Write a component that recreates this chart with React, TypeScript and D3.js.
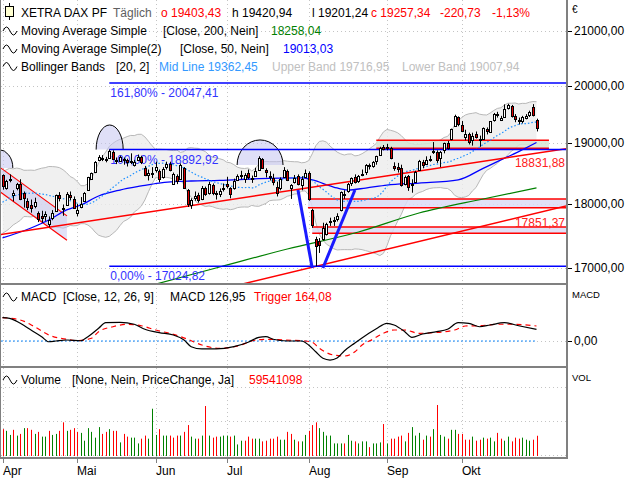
import * as d3 from 'd3';

// trading sessions per month, Apr..Okt 2024
const monthLabels = ['Apr', 'Mai', 'Jun', 'Jul', 'Aug', 'Sep', 'Okt'];
const monthTradingDays = [21, 22, 20, 23, 22, 21, 22];

// closes of the 19 sessions before 2 April (warm-up for the 20-day Bollinger band)
const priorCloses = [
  17716, 17698, 17716, 17842, 17814, 17746, 17965, 17961, 17942, 17936,
  17933, 17987, 18015, 18179, 18206, 18261, 18384, 18477, 18492,
];

const opens = [
  18470, 18250, 18410, 18150, 18250, 18320, 18180, 18040, 17990, 17960, 17850, 17800, 17810, 17680, 17770, 17890, 18150, 17930, 17990, 18150, 18080,
  17850, 17950, 18050, 18230, 18400, 18520, 18720, 18760, 18730, 18760, 18850, 18720, 18700, 18740, 18720, 18700, 18640, 18720, 18770, 18580, 18470, 18510,
  18560, 18530, 18440, 18600, 18650, 18330, 18460, 18400, 18580, 18220, 17990, 18090, 18140, 18080, 18260, 18180, 18310, 18170, 18160, 18250,
  18330, 18250, 18250, 18390, 18450, 18400, 18500, 18420, 18460, 18560, 18740, 18560, 18450, 18420, 18280, 18250, 18440, 18540, 18260, 18350, 18450, 18310, 18440,
  18500, 17900, 17450, 17420, 17450, 17520, 17730, 17740, 17760, 17900, 18150, 18200, 18340, 18440, 18370, 18470, 18520, 18640, 18620, 18700, 18800, 18930,
  18920, 18920, 18620, 18610, 18590, 18320, 18450, 18300, 18360, 18560, 18680, 18660, 18730, 18850, 18850, 18750, 18880, 19000, 19080, 19300, 19450,
  19320, 19100, 19150, 19050, 19150, 19050, 19080, 19250, 19200, 19390, 19510, 19400, 19450, 19600, 19640, 19470, 19400, 19380, 19440, 19480, 19630, 19403.43,
];

const highs = [
  18480, 18390, 18480, 18220, 18340, 18400, 18200, 18090, 18070, 18100, 17880, 17890, 17880, 17800, 17900, 18150, 18190, 17990, 18190, 18200, 18120,
  18000, 18110, 18190, 18440, 18510, 18700, 18800, 18800, 18770, 18892.92, 18880, 18760, 18790, 18760, 18740, 18830, 18720, 18810, 18790, 18620, 18560, 18600,
  18690, 18560, 18600, 18690, 18690, 18510, 18480, 18660, 18600, 18240, 18090, 18200, 18180, 18290, 18280, 18360, 18330, 18210, 18250, 18330,
  18440, 18270, 18410, 18480, 18540, 18500, 18560, 18460, 18590, 18780, 18750, 18580, 18530, 18490, 18360, 18430, 18600, 18560, 18320, 18470, 18480, 18450, 18560,
  18530, 17920, 17480, 17460, 17700, 17700, 17780, 17790, 17850, 18200, 18220, 18340, 18430, 18480, 18470, 18560, 18650, 18660, 18700, 18790, 18940, 18970,
  18990, 18940, 18680, 18670, 18640, 18460, 18470, 18400, 18540, 18720, 18720, 18780, 18790, 19020, 18880, 18870, 19010, 19040, 19250, 19490, 19460,
  19380, 19230, 19180, 19180, 19200, 19130, 19270, 19270, 19380, 19520, 19540, 19470, 19670, 19680, 19660, 19500, 19440, 19470, 19500, 19560, 19674, 19420.94,
];

const lows = [
  18230, 18230, 18350, 18040, 18220, 18060, 17940, 17900, 17860, 17930, 17710, 17700, 17730, 17630, 17740, 17880, 18040, 17810, 17980, 18060, 17920,
  17800, 17930, 18040, 18220, 18390, 18500, 18700, 18700, 18680, 18740, 18720, 18650, 18690, 18640, 18610, 18650, 18610, 18700, 18650, 18450, 18380, 18420,
  18510, 18350, 18410, 18560, 18530, 18310, 18320, 18390, 18240, 17950, 17920, 18050, 18020, 18060, 18130, 18150, 18140, 18070, 18110, 18200,
  18250, 18090, 18230, 18370, 18400, 18340, 18400, 18340, 18440, 18550, 18570, 18430, 18380, 18300, 18120, 18220, 18420, 18370, 18080, 18330, 18300, 18220, 18420,
  18050, 17620, 17024.82, 17230, 17420, 17500, 17650, 17650, 17720, 17880, 18080, 18180, 18290, 18330, 18340, 18450, 18470, 18560, 18590, 18640, 18790, 18880,
  18880, 18730, 18540, 18510, 18280, 18300, 18210, 18180, 18350, 18550, 18580, 18650, 18690, 18820, 18670, 18600, 18830, 18890, 19050, 19290, 19290,
  19190, 19050, 18980, 18960, 19080, 18940, 19060, 19150, 19180, 19370, 19440, 19380, 19440, 19580, 19440, 19360, 19320, 19340, 19410, 19450, 19460, 19201.24,
];

const closes = [
  18283, 18367, 18403, 18175, 18318, 18077, 18097, 17955, 17930, 18027, 17766, 17770, 17837, 17737, 17860, 18137, 18088, 17917, 18161, 18118, 17932,
  17896, 18001, 18175, 18430, 18498, 18686, 18773, 18742, 18716, 18869, 18738, 18704, 18768, 18726, 18680, 18692, 18693, 18775, 18677, 18473, 18496, 18498,
  18608, 18406, 18575, 18653, 18557, 18494, 18370, 18630, 18265, 18002, 18068, 18131, 18067, 18254, 18163, 18325, 18177, 18155, 18211, 18235,
  18290, 18164, 18374, 18450, 18475, 18472, 18430, 18407, 18534, 18748, 18590, 18518, 18437, 18354, 18171, 18407, 18558, 18387, 18299, 18417, 18320, 18411, 18509,
  18083, 17661, 17339, 17354, 17615, 17680, 17723, 17726, 17812, 18184, 18166, 18322, 18421, 18357, 18448, 18493, 18633, 18617, 18681, 18782, 18912, 18906,
  18930, 18747, 18591, 18576, 18302, 18444, 18266, 18330, 18518, 18699, 18633, 18726, 18711, 18873, 18720, 18847, 18997, 18919, 19238, 19474, 19325,
  19213, 19164, 19015, 19120, 19104, 19066, 19254, 19211, 19373, 19508, 19486, 19432, 19583, 19657, 19461, 19422, 19377, 19443, 19464, 19532, 19478, 19257.34,
];

// volume in millions
const volumes = [
  79, 74, 62, 77, 60, 65, 82, 82, 77, 65, 71, 57, 57, 74, 62, 65, 74, 99, 74, 77, 82,
  71, 68, 45, 82, 71, 54, 85, 65, 71, 79, 74, 74, 40, 65, 57, 54, 54, 37, 51, 60, 51, 139,
  62, 79, 60, 60, 60, 54, 60, 60, 71, 91, 57, 51, 51, 60, 147, 60, 54, 57, 57, 60,
  60, 57, 60, 34, 45, 45, 57, 51, 51, 51, 43, 45, 51, 51, 57, 48, 48, 71, 65, 48, 43, 43, 62,
  74, 91, 99, 82, 71, 60, 60, 37, 37, 37, 37, 62, 45, 43, 37, 43, 43, 26, 37, 37, 40, 94,
  37, 51, 51, 57, 60, 43, 68, 85, 60, 68, 48, 60, 57, 79, 150, 62, 57, 51, 77, 77, 65,
  65, 48, 48, 57, 45, 48, 54, 51, 54, 43, 68, 51, 45, 57, 43, 54, 51, 54, 48, 45, 48, 59.541098,
];

// [session index, value]
const ma200Points: [number, number][] = [
  [40, 16714], [61, 17015], [80, 17290], [100, 17554], [117, 17854], [135, 18079], [150, 18258.04],
];
const ma50Points: [number, number][] = [
  [0, 17461], [8, 17617], [13, 17743], [18, 17903], [22, 17982], [27, 18127], [33, 18224], [39, 18290],
  [44, 18338], [53, 18371], [61, 18380], [72, 18410], [84, 18421], [87, 18388], [93, 18273], [97, 18224],
  [102, 18256], [108, 18305], [117, 18338], [128, 18390], [135, 18580], [140, 18720], [145, 18860], [150, 19013.03],
];
const macdPoints: [number, number][] = [
  [0, 255], [2, 248], [5, 193], [8, 120], [11, 47], [13, -8], [15, 0], [18, 11], [22, 3], [24, 47],
  [27, 139], [29, 200], [33, 204], [37, 183], [40, 128], [44, 91], [48, 66], [51, 11], [53, -62], [56, -87],
  [60, -87], [65, -62], [69, -14], [72, 40], [74, 47], [76, 19], [80, 0], [84, 0], [86, -44], [88, -117],
  [90, -189], [92, -208], [94, -186], [96, -109], [99, -22], [102, 60], [105, 134], [108, 193], [110, 175],
  [113, 102], [115, 40], [118, 77], [122, 102], [125, 128], [128, 200], [131, 193], [134, 156], [137, 175],
  [141, 200], [145, 167], [150, 126.95],
];
const triggerPoints: [number, number][] = [
  [0, 255], [5, 230], [9, 156], [13, 66], [18, 19], [21, 3], [25, 30], [27, 102], [31, 156], [35, 183],
  [39, 167], [43, 120], [48, 73], [52, 19], [56, -44], [61, -80], [67, -44], [70, 0], [74, 19], [79, 11],
  [85, 0], [87, -14], [89, -80], [93, -153], [96, -164], [99, -117], [101, -44], [104, 19], [107, 84],
  [110, 120], [113, 120], [117, 84], [121, 91], [127, 120], [130, 164], [134, 167], [139, 183], [143, 183],
  [150, 164.08],
];

const priceTicks = [17000, 18000, 19000, 20000, 21000];
const volumeGrid = [0, 100, 200];

// Fibonacci retracement from the May high to the August low
const fibLevels = [
  { pct: '161,80%', value: 20047.41 },
  { pct: '100,00%', value: 18892.92 },
  { pct: '0,00%', value: 17024.82 },
];
const fibStartSession = 30;

// drawings: anchors as [session index, price]
const trendLines = [
  { a: [13, 17630], b: [150, 18831.88], from: -1, to: 158.3 },
  { a: [88, 17024.82], b: [150, 17851.37], from: 60, to: 158.3 },
];
const channel = { lowA: [3, 18040], lowB: [13, 17630], highA: [2, 18480], from: -1, to: 18.1 };
const vLegs = [
  [[83, 18224], [87, 17000]],
  [[90, 17000], [99, 18224]],
];
const zones = [
  { from: 105, to: 153.5, hi: 19050, lo: 18914, kind: 'resistance' },
  { from: 85.8, to: 158.3, hi: 18079, lo: 17939, kind: 'support' },
  { from: 87, to: 158.3, hi: 17633, lo: 17534, kind: 'support' },
];
const arcs = [
  { from: -4.9, to: 2.9, base: 18586, top: 18892 },
  { from: 26.3, to: 33.9, base: 18893, top: 19312 },
  { from: 65.9, to: 78.8, base: 18635, top: 19056 },
];

const fmt = (v: number) => v.toFixed(2).replace('.', ',');

export default function App() {
  const n = closes.length;
  const x = d3.scaleLinear().domain([0, n - 1]).range([2.5, 536.5]);
  const y = d3.scaleLog().domain([17000, 21000]).range([268, 31]);
  const yMacd = d3.scaleLinear().domain([-295, 612]).range([368, 285]);
  const yVol = d3.scaleLinear().domain([0, 258.8]).range([456, 368]);

  const allCloses = [...priorCloses, ...closes];
  const bands = closes.map((_, i) => {
    const w = allCloses.slice(i, i + 20);
    const m = d3.mean(w) as number;
    const sd = Math.sqrt(d3.mean(w, (v) => (v - m) ** 2) as number);
    return { i, m, u: m + 2 * sd, l: m - 2 * sd };
  });

  const bandArea = d3.area<typeof bands[0]>().x((d) => x(d.i)).y0((d) => y(d.l)).y1((d) => y(d.u));
  const bandUpper = d3.line<typeof bands[0]>().x((d) => x(d.i)).y((d) => y(d.u));
  const bandLower = d3.line<typeof bands[0]>().x((d) => x(d.i)).y((d) => y(d.l));
  const bandMid = d3.line<typeof bands[0]>().x((d) => x(d.i)).y((d) => y(d.m));
  const priceLine = d3.line<[number, number]>().x((d) => x(d[0])).y((d) => y(d[1])).curve(d3.curveMonotoneX);
  const macdLine = d3.line<[number, number]>().x((d) => x(d[0])).y((d) => yMacd(d[1])).curve(d3.curveMonotoneX);

  const extend = (a: number[], b: number[], from: number, to: number) => {
    const xa = x(a[0]), ya = y(a[1]), xb = x(b[0]), yb = y(b[1]);
    const k = (yb - ya) / (xb - xa);
    const x0 = Math.max(0, x(from)), x1 = x(to);
    return { x0, y0: ya + k * (x0 - xa), x1, y1: ya + k * (x1 - xa), k };
  };

  const lowLine = extend(channel.lowA, channel.lowB, channel.from, channel.to);
  const hx = x(channel.highA[0]), hy = y(channel.highA[1]);
  const upY = (px: number) => hy + lowLine.k * (px - hx);

  const monthStarts = d3.cumsum([0, ...monthTradingDays.slice(0, -1)]);
  const gridX = Array.from(monthStarts, (s) => Math.round(x(s)) + 0.5);

  const red = '#ff0000';
  const green = '#008000';
  const font = 'Liberation Sans, Arial, sans-serif';

  const waveIcon = (yc: number) => `M3,${yc + 1} q3.5,-8 7,0 t7,0`;

  return (
    <svg width={640} height={480} style={{ position: 'absolute', left: 0, top: 0 }} fontFamily={font} fontSize={12}>
      <defs>
        <clipPath id="mainClip"><rect x={1} y={0} width={565} height={283} /></clipPath>
        <clipPath id="macdClip"><rect x={1} y={286} width={565} height={80} /></clipPath>
      </defs>
      <rect width={640} height={480} fill="#fff" />

      {/* grid */}
      <g stroke="#c4c4c4" strokeDasharray="1,3">
        {gridX.map((gx, k) => (
          <line key={k} x1={gx} x2={gx} y1={0} y2={457} />
        ))}
        {priceTicks.map((t) => (
          <line key={t} x1={1} x2={566} y1={Math.round(y(t)) + 0.5} y2={Math.round(y(t)) + 0.5} />
        ))}
        <line x1={1} x2={566} y1={Math.round(yMacd(0)) + 0.5} y2={Math.round(yMacd(0)) + 0.5} />
        {volumeGrid.map((t) => (
          <line key={t} x1={1} x2={566} y1={Math.round(yVol(t)) - 0.5} y2={Math.round(yVol(t)) - 0.5} />
        ))}
      </g>

      <g clipPath="url(#mainClip)">
        {/* Bollinger band */}
        <path d={bandArea(bands) ?? ''} fill="#ececec" fillOpacity={0.8} />
        <path d={bandUpper(bands) ?? ''} fill="none" stroke="#b8b8b8" strokeWidth={1} />
        <path d={bandLower(bands) ?? ''} fill="none" stroke="#b8b8b8" strokeWidth={1} />

        {/* horizontal zones */}
        {zones.map((z, k) => (
          <g key={k}>
            <rect x={x(z.from)} width={x(z.to) - x(z.from)} y={y(z.hi)} height={y(z.lo) - y(z.hi)}
              fill={z.kind === 'resistance' ? '#d6e4d4' : '#dcdcf6'} fillOpacity={0.85} />
            <line x1={x(z.from)} x2={x(z.to)} y1={y(z.hi)} y2={y(z.hi)} stroke={red} strokeWidth={1.5} />
            <line x1={x(z.from)} x2={x(z.to)} y1={y(z.lo)} y2={y(z.lo)} stroke={red} strokeWidth={1.5} />
          </g>
        ))}

        {/* April channel */}
        <path
          d={`M${lowLine.x0},${upY(lowLine.x0)}L${lowLine.x1},${upY(lowLine.x1)}L${lowLine.x1},${lowLine.y1}L${lowLine.x0},${lowLine.y0}Z`}
          fill="#c8c8f0" fillOpacity={0.55}
        />
        <line x1={lowLine.x0} y1={upY(lowLine.x0)} x2={lowLine.x1} y2={upY(lowLine.x1)} stroke={red} strokeWidth={1.2} />
        <line x1={lowLine.x0} y1={lowLine.y0} x2={lowLine.x1} y2={lowLine.y1} stroke={red} strokeWidth={1.2} />

        {/* arcs */}
        {arcs.map((a, k) => {
          const x0 = x(a.from), x1 = x(a.to), yb = y(a.base);
          const rx = (x1 - x0) / 2, ry = yb - y(a.top);
          const d = `M${x0},${yb}A${rx},${ry} 0 0 1 ${x1},${yb}`;
          return (
            <g key={k}>
              <path d={d + 'Z'} fill="#c4c4f0" fillOpacity={0.55} />
              <path d={d} fill="none" stroke="#000" strokeWidth={1} />
            </g>
          );
        })}

        {/* moving averages */}
        <path d={priceLine(ma200Points) ?? ''} fill="none" stroke={green} strokeWidth={1.2} />
        <path d={priceLine(ma50Points) ?? ''} fill="none" stroke="#0000ff" strokeWidth={1.3} />
        <path d={bandMid(bands) ?? ''} fill="none" stroke="#1e90ff" strokeWidth={1.2} strokeDasharray="1.5,2" />

        {/* trend lines */}
        {trendLines.map((t, k) => {
          const l = extend(t.a, t.b, t.from, t.to);
          return <line key={k} x1={l.x0} y1={l.y0} x2={l.x1} y2={l.y1} stroke={red} strokeWidth={1.5} />;
        })}

        {/* Fibonacci */}
        {fibLevels.map((f) => (
          <g key={f.pct}>
            <line x1={x(fibStartSession)} x2={566} y1={y(f.value)} y2={y(f.value)} stroke="#0000ff" strokeWidth={1.5} />
            <text x={x(fibStartSession) + 1} y={y(f.value) + 14} fill="#3333ff">{`${f.pct} - ${fmt(f.value)}`}</text>
          </g>
        ))}

        {/* candles */}
        {closes.map((c, i) => {
          const cx = Math.round(x(i));
          const o = opens[i];
          const top = Math.round(y(Math.max(o, c)));
          const bot = Math.round(y(Math.min(o, c)));
          return (
            <g key={i}>
              <line x1={cx + 0.5} x2={cx + 0.5} y1={y(highs[i])} y2={y(lows[i])} stroke="#000" strokeWidth={1} />
              <rect x={cx - 0.5} y={top + 0.5} width={2} height={Math.max(1, bot - top)}
                fill={c >= o ? '#fff' : '#e00000'} stroke="#000" strokeWidth={1} />
            </g>
          );
        })}

        {/* V drawing */}
        {vLegs.map((leg, k) => (
          <line key={k} x1={x(leg[0][0])} y1={y(leg[0][1])} x2={x(leg[1][0])} y2={y(leg[1][1])}
            stroke="#1a1aff" strokeWidth={3} />
        ))}

        {trendLines.map((t, k) => (
          <text key={k} x={565} y={y(t.b[1]) + 14} textAnchor="end" fill="#ff2020">{fmt(t.b[1])}</text>
        ))}
      </g>

      {/* MACD */}
      <g clipPath="url(#macdClip)">
        <line x1={1} x2={x(n - 1)} y1={yMacd(0)} y2={yMacd(0)} stroke="#1e90ff" strokeDasharray="2,2" />
        <path d={macdLine(triggerPoints) ?? ''} fill="none" stroke={red} strokeWidth={1.2} strokeDasharray="5,4" />
        <path d={macdLine(macdPoints) ?? ''} fill="none" stroke="#000" strokeWidth={1.2} />
      </g>

      {/* Volume */}
      {volumes.map((v, i) => {
        const prev = i === 0 ? priorCloses[priorCloses.length - 1] : closes[i - 1];
        return (
          <rect key={i} x={Math.round(x(i))} y={yVol(v)} width={1} height={yVol(0) - yVol(v)}
            fill={closes[i] >= prev ? green : red} />
        );
      })}

      {/* frames */}
      <g stroke="#808080">
        <line x1={0.5} x2={0.5} y1={0} y2={458} strokeWidth={1} />
        <line x1={567} x2={567} y1={0} y2={459} strokeWidth={2} />
        <line x1={0} x2={568} y1={284} y2={284} strokeWidth={2} />
        <line x1={0} x2={568} y1={367} y2={367} strokeWidth={2} />
        <line x1={0} x2={568} y1={458} y2={458} strokeWidth={2} />
        {gridX.map((gx, k) => (
          <line key={k} x1={gx} x2={gx} y1={459} y2={463} strokeWidth={1} />
        ))}
      </g>

      {/* right axis */}
      <text x={572} y={13} fontSize={10}>€</text>
      {priceTicks.map((t) => (
        <g key={t}>
          <line x1={568} x2={572} y1={Math.round(y(t)) + 0.5} y2={Math.round(y(t)) + 0.5} stroke="#000" />
          <text x={574} y={y(t) + 4}>{fmt(t)}</text>
        </g>
      ))}
      <text x={572} y={298} fontSize={9.5}>MACD</text>
      <line x1={568} x2={572} y1={Math.round(yMacd(0)) + 0.5} y2={Math.round(yMacd(0)) + 0.5} stroke="#000" />
      <text x={574} y={yMacd(0) + 4}>{fmt(0)}</text>
      <text x={572} y={381} fontSize={9.5}>VOL</text>

      {/* month labels */}
      {monthLabels.map((m, k) => (
        <text key={m} x={gridX[k] - 0.5} y={475}>{m}</text>
      ))}

      {/* legends */}
      <line x1={9.5} x2={9.5} y1={3} y2={20} stroke="#000" />
      <rect x={5.5} y={6.5} width={8} height={10} fill="#ffffd0" stroke="#000" />
      <text x={21} y={17}>XETRA DAX PF</text>
      <text x={113} y={17} fill="#606060">Täglich</text>
      <text x={161} y={17} fill={red}>o 19403,43</text>
      <text x={232} y={17}>h 19420,94</text>
      <text x={312} y={17}>l 19201,24</text>
      <text x={371} y={17} fill={red}>c 19257,34</text>
      <text x={440} y={17} fill={red}>-220,73</text>
      <text x={492} y={17} fill={red}>-1,13%</text>

      <path d={waveIcon(30)} fill="none" stroke="#000" />
      <text x={21} y={35}>Moving Average Simple</text>
      <text x={163} y={35}>[Close, 200, Nein]</text>
      <text x={271} y={35} fill={green}>18258,04</text>

      <path d={waveIcon(48)} fill="none" stroke="#000" />
      <text x={21} y={53}>Moving Average Simple(2)</text>
      <text x={180} y={53}>[Close, 50, Nein]</text>
      <text x={283} y={53} fill="#0000ff">19013,03</text>

      <path d={waveIcon(65.5)} fill="none" stroke="#000" />
      <text x={21} y={70.5}>Bollinger Bands</text>
      <text x={116} y={70.5}>[20, 2]</text>
      <text x={159} y={70.5} fill="#3399ff">Mid Line 19362,45</text>
      <text x={272} y={70.5} fill="#c0c0c0">Upper Band 19716,95</text>
      <text x={402} y={70.5} fill="#c0c0c0">Lower Band 19007,94</text>

      <path d={waveIcon(296)} fill="none" stroke="#000" />
      <text x={21} y={301}>MACD</text>
      <text x={63} y={301}>[Close, 12, 26, 9]</text>
      <text x={170} y={301}>MACD 126,95</text>
      <text x={254} y={301} fill={red}>Trigger 164,08</text>

      <path d={waveIcon(379)} fill="none" stroke="#000" />
      <text x={21} y={384}>Volume</text>
      <text x={72} y={384}>[None, Nein, PriceChange, Ja]</text>
      <text x={249} y={384} fill={red}>59541098</text>
    </svg>
  );
}
